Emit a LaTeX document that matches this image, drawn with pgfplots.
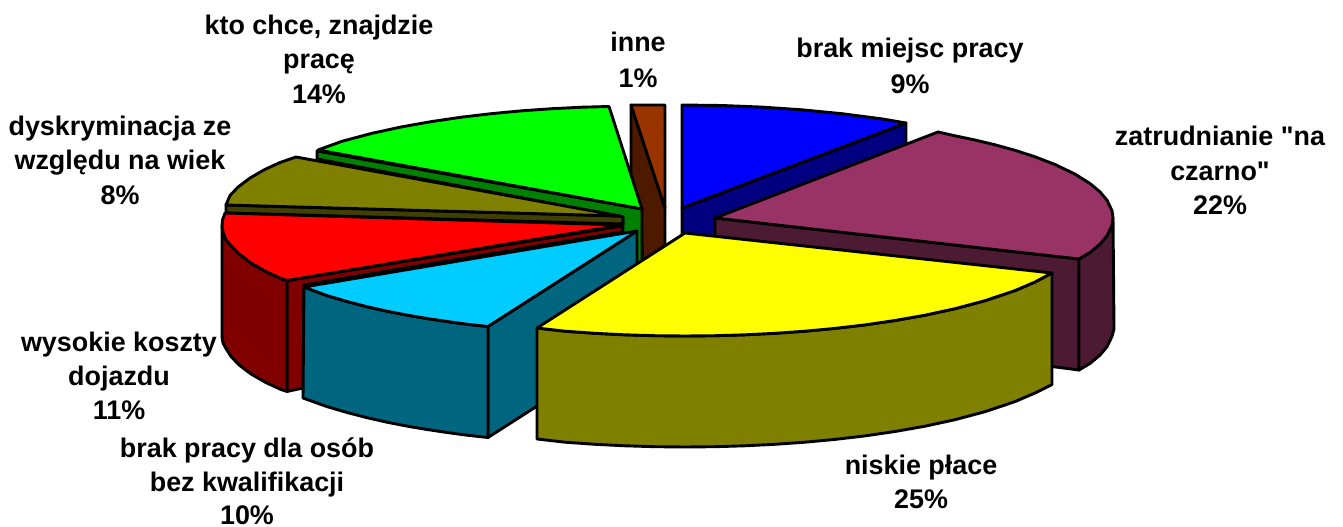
\documentclass[border=0pt]{standalone}
\usepackage{fontspec}
\newfontfamily\labfont{Liberation Sans}
\setmainfont{Liberation Sans}
\usepackage{pgfplots}
\pgfplotsset{compat=1.18}
\definecolor{cblue}{HTML}{0000FF}\definecolor{dblue}{HTML}{000080}
\definecolor{cplum}{HTML}{993366}\definecolor{dplum}{HTML}{4D1A33}
\definecolor{cbrown}{HTML}{993300}\definecolor{dbrown}{HTML}{4D1A00}
\definecolor{cgreen}{HTML}{00FF00}\definecolor{dgreen}{HTML}{008000}
\definecolor{colive}{HTML}{808000}\definecolor{dolive}{HTML}{404000}
\definecolor{cred}{HTML}{FF0000}\definecolor{dred}{HTML}{800000}
\definecolor{ccyan}{HTML}{00CCFF}\definecolor{dcyan}{HTML}{006680}
\definecolor{cyel}{HTML}{FFFF00}
\tikzset{lab/.style={font=\labfont\fontsize{26.9}{30}\selectfont\bfseries,anchor=base,inner sep=0pt,text=black}}
\begin{document}
\begin{tikzpicture}[x=1pt,y=1pt]
\begin{axis}[width=1343pt,height=527pt,scale only axis,hide axis,clip=false,
  xmin=0,xmax=1343,ymin=0,ymax=527,y dir=reverse,
  every axis plot/.append style={draw=black,line width=2.9pt,line join=round,mark=none,no markers}]
\addplot[draw=none] coordinates {(0,0)(1343,527)};
% blue side
\addplot[fill=dblue] coordinates {(682,208)(906,123)(906,165)(800,240)(682,240)} -- cycle;
% blue top
\addplot[fill=cblue] coordinates {(682,105)(722,105.5)(762,107.1)(802,109.8)(842,113.7)(882,118.9)(906,123)(682,208)} -- cycle;
% plum sides
\addplot[fill=dplum] coordinates {(715,218)(1079,259)(1079,370)(1040,365)(715,330)} -- cycle;
\addplot[fill=dplum] coordinates {(1079,259)(1090,252.5)(1100,244.1)(1107,235.8)(1112,225.3)(1113,218)(1114,329)(1112,336.3)(1107,346.8)(1100,355.1)(1090,363.5)(1079,370)} -- cycle;
% plum top
\addplot[fill=cplum] coordinates {(715,218)(938,132)(955,135.8)(975,140)(995,144.8)(1015,150.3)(1035,156.8)(1055,164.5)(1075,174.1)(1090,183.5)(1100,191.9)(1107,200.2)(1112,210.7)(1113,218)(1112,225.3)(1107,235.8)(1100,244.1)(1090,252.5)(1079,259)} -- cycle;
% brown
\addplot[fill=dbrown] coordinates {(631,105)(665,208)(665,300)(645,300)(640,210)(631,193)} -- cycle;
\addplot[fill=cbrown] coordinates {(631,105)(665,105)(665,208)} -- cycle;
% green
\addplot[fill=dgreen] coordinates {(317,151)(642,209)(642,320)(623,320)(623,217)(317,159)} -- cycle;
\addplot[fill=cgreen] coordinates {(318,150)(342,141.3)(372,133.3)(402,126.8)(432,121.5)(462,117.1)(492,113.6)(522,110.8)(552,108.7)(582,107.2)(609,106.5)(642,209)} -- cycle;
% olive
\addplot[fill=dolive] coordinates {(226,205)(226,213)(623,224)(623,217)(620,216)} -- cycle;
\addplot[fill=colive] coordinates {(226,205)(230,195.5)(238,187.1)(250,178)(265,169.4)(280,162.5)(296,157)(620,216)} -- cycle;
% red
\addplot[fill=dred] coordinates {(287,280.5)(622,226)(622,232)(304,285)(303,388)(287,391.5)} -- cycle;
\addplot[fill=dred] coordinates {(222,226)(222,337)(223,343)(226,348.6)(231,356.5)(239,364.9)(251,374)(266,382.6)(281,389.5)(287,391.5)(287,280.5)(281,278.5)(266,271.6)(251,263)(239,253.9)(231,245.5)(226,240)(223,232)} -- cycle;
\addplot[fill=cred] coordinates {(225,213)(622,225)(287,280.5)(281,278.5)(266,271.6)(251,263)(239,253.9)(231,245.5)(226,240)(223,232)(222,226)(222.5,220)} -- cycle;
% cyan
\addplot[fill=dcyan] coordinates {(488,326.5)(637,231)(637,342)(488,437.5)} -- cycle;
\addplot[fill=dcyan] coordinates {(304,287)(327,295.6)(347,301.5)(367,306.7)(387,311.2)(407,315.1)(427,318.5)(447,321.5)(467,324.2)(488,326.5)(488,437.5)(467,435.2)(447,432.5)(427,429.5)(407,426.1)(387,422.2)(367,417.7)(347,412.5)(327,406.6)(303,398)} -- cycle;
\addplot[fill=ccyan] coordinates {(304,287)(327,295.6)(347,301.5)(367,306.7)(387,311.2)(407,315.1)(427,318.5)(447,321.5)(467,324.2)(488,326.5)(637,231)} -- cycle;
% yellow
\addplot[fill=colive] coordinates {(537,328)(565,331.2)(595,333.3)(625,334.8)(655,335.7)(685,336)(715,335.7)(745,334.8)(775,333.3)(805,331.2)(835,328.4)(865,324.9)(895,320.5)(925,315.2)(955,308.7)(985,300.7)(1015,290.6)(1035,282)(1052,273)(1052,384.5)(1035,393)(1015,401.6)(985,411.7)(955,419.7)(925,426.2)(895,431.5)(865,435.9)(835,439.4)(805,442.2)(775,444.3)(745,445.8)(715,446.7)(685,447)(655,446.7)(625,445.8)(595,444.3)(565,442.2)(537,439)} -- cycle;
\addplot[fill=cyel] coordinates {(685,233)(1052,273)(1035,282)(1015,290.6)(985,300.7)(955,308.7)(925,315.2)(895,320.5)(865,324.9)(835,328.4)(805,331.2)(775,333.3)(745,334.8)(715,335.7)(685,336)(655,335.7)(625,334.8)(595,333.3)(565,331.2)(537,328)} -- cycle;
% labels
\node[lab] at (axis cs:910,58) {brak miejsc pracy};
\node[lab] at (axis cs:910,93) {9\%};
\node[lab] at (axis cs:1220,145) {zatrudnianie "na};
\node[lab] at (axis cs:1220,180) {czarno"};
\node[lab] at (axis cs:1220,214) {22\%};
\node[lab] at (axis cs:921,474) {niskie płace};
\node[lab] at (axis cs:921,508) {25\%};
\node[lab] at (axis cs:247,457) {brak pracy dla osób};
\node[lab] at (axis cs:247,491) {bez kwalifikacji};
\node[lab] at (axis cs:247,524) {10\%};
\node[lab] at (axis cs:119,351) {wysokie koszty};
\node[lab] at (axis cs:119,385) {dojazdu};
\node[lab] at (axis cs:119,419) {11\%};
\node[lab] at (axis cs:120,135) {dyskryminacja ze};
\node[lab] at (axis cs:120,169) {względu na wiek};
\node[lab] at (axis cs:120,204) {8\%};
\node[lab] at (axis cs:319,35) {kto chce, znajdzie};
\node[lab] at (axis cs:319,69) {pracę};
\node[lab] at (axis cs:319,103) {14\%};
\node[lab] at (axis cs:638,52) {inne};
\node[lab] at (axis cs:638,87) {1\%};
\end{axis}
\end{tikzpicture}
\end{document}
